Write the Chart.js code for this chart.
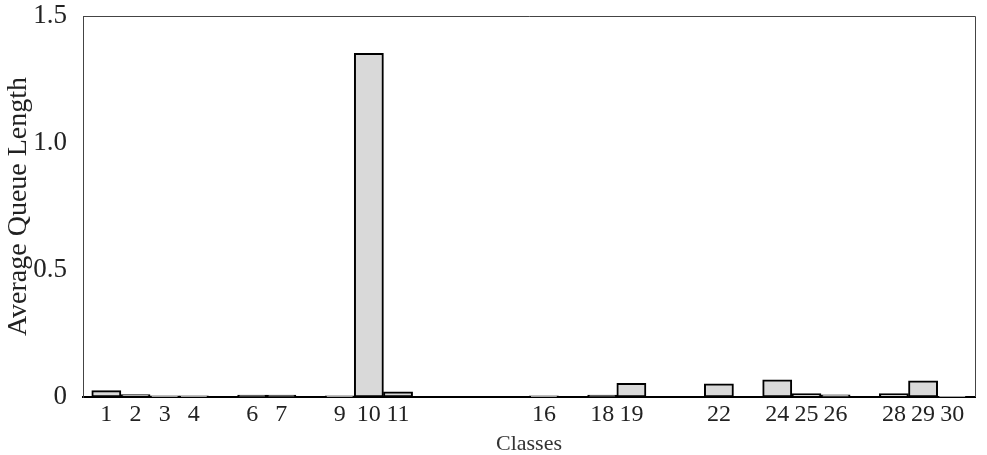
<!DOCTYPE html>
<html>
<head>
<meta charset="utf-8">
<script src="https://cdn.jsdelivr.net/npm/chart.js@4"></script>
<style>
    html, body { margin: 0; padding: 0; background: #fff; }
    #wrap { width: 987px; height: 455px; }
</style>
</head>
<body>
<div id="wrap"><canvas id="queueChart"></canvas></div>
<script>
// Classes 1..30 and their average queue length
const classes = [1, 2, 3, 4, 5, 6, 7, 8, 9, 10, 11, 12, 13, 14, 15, 16, 17, 18, 19, 20, 21, 22, 23, 24, 25, 26, 27, 28, 29, 30];
const queueLengths = [0.025, 0.01, 0.005, 0.005, 0, 0.008, 0.008, 0, 0.005, 1.353, 0.02, 0, 0, 0, 0, 0.005, 0, 0.008, 0.054, 0, 0, 0.052, 0, 0.068, 0.013, 0.009, 0, 0.013, 0.064, 0.003];
// only these classes get a label on the x axis
const tickClasses = [1, 2, 3, 4, 6, 7, 9, 10, 11, 16, 18, 19, 22, 24, 25, 26, 28, 29, 30];
const yTicks = [0, 0.5, 1.0, 1.5];

const serif = '"Liberation Serif", "Times New Roman", serif';

// draws top and right edges of the plot box
const frame = {
    id: 'frame',
    afterDraw(chart) {
        const { ctx, chartArea: a } = chart;
        ctx.save();
        ctx.strokeStyle = '#444';
        ctx.lineWidth = 1;
        ctx.beginPath();
        ctx.moveTo(a.left, a.top + 0.5);
        ctx.lineTo(a.right + 0.5, a.top + 0.5);
        ctx.lineTo(a.right + 0.5, a.bottom);
        ctx.stroke();
        ctx.restore();
    }
};

const ctx = document.getElementById('queueChart').getContext('2d');
new Chart(ctx, {
    type: 'bar',
    data: {
        datasets: [{
            data: classes.map((c, i) => ({ x: c, y: queueLengths[i] })),
            backgroundColor: '#d9d9d9',
            borderColor: '#000',
            borderWidth: 2,
            borderSkipped: false,
            barPercentage: 1,
            categoryPercentage: 1
        }]
    },
    options: {
        responsive: true,
        maintainAspectRatio: false,
        animation: false,
        layout: { padding: { top: 16, right: 12 } },
        plugins: {
            legend: { display: false },
            tooltip: { enabled: false }
        },
        scales: {
            x: {
                type: 'linear',
                offset: false,
                min: 0.2,
                max: 30.78,
                grid: { display: false },
                border: { color: '#000', width: 2 },
                afterBuildTicks: axis => { axis.ticks = tickClasses.map(v => ({ value: v })); },
                afterFit: axis => { axis.height = 58; axis.paddingLeft = 0; axis.paddingRight = 0; },
                ticks: {
                    autoSkip: false,
                    maxRotation: 0,
                    padding: -5,
                    color: '#222',
                    font: { family: serif, size: 24 },
                    callback: v => String(v)
                },
                title: {
                    display: true,
                    text: 'Classes',
                    color: '#333',
                    padding: { top: 0, bottom: -2 },
                    font: { family: serif, size: 22 }
                }
            },
            y: {
                min: 0,
                max: 1.5,
                grid: { display: false },
                border: { color: '#444', width: 1 },
                afterBuildTicks: axis => { axis.ticks = yTicks.map(v => ({ value: v })); },
                afterFit: axis => { axis.width = 83; axis.paddingTop = 0; axis.paddingBottom = 0; },
                ticks: {
                    padding: 8,
                    color: '#222',
                    font: { family: serif, size: 27 },
                    callback: v => v === 0 ? '0' : v.toFixed(1)
                },
                title: {
                    display: true,
                    text: 'Average Queue Length',
                    color: '#222',
                    padding: { top: 2, bottom: 0 },
                    font: { family: serif, size: 28 }
                }
            }
        }
    },
    plugins: [frame]
});
</script>
</body>
</html>
